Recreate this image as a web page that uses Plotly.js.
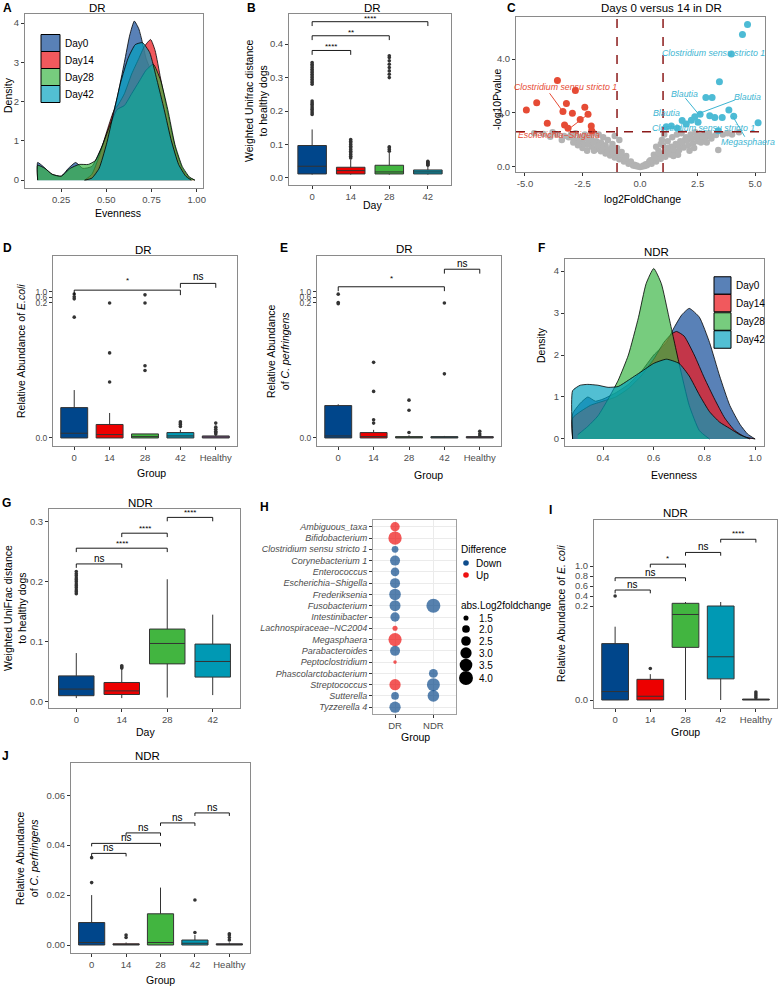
<!DOCTYPE html>
<html><head><meta charset="utf-8">
<script src="https://cdn.plot.ly/plotly-3.0.1.min.js"></script>
<style>html,body{margin:0;padding:0;background:#fff}#chart{width:778px;height:987px}</style>
</head><body><div id="chart"></div>
<script>
// ================= DATA =================
const dayNames = ['Day0','Day14','Day28','Day42'];
// Panel A (DR evenness density)
const aDay0X = [0.12,0.12,0.15,0.2,0.25,0.29,0.33,0.37,0.42,0.47,0.52,0.56,0.6,0.63,0.655,0.68,0.7,0.72,0.75,0.78,0.82,0.86,0.9,0.94,0.97];
const aDay0Y = [0,0.45,0.35,0.15,0.1,0.3,0.45,0.3,0.35,0.8,1.4,2.1,3.0,3.7,4.05,3.85,3.5,3.1,2.75,2.4,1.7,1.0,0.4,0.1,0];
const aDay14X = [0.38,0.42,0.46,0.5,0.54,0.57,0.6,0.64,0.68,0.71,0.745,0.77,0.8,0.84,0.88,0.92,0.96,0.99];
const aDay14Y = [0,0.15,0.6,1.2,1.75,1.95,2.2,2.7,3.1,3.4,3.58,3.3,2.6,1.7,0.85,0.3,0.06,0];
const aDay28X = [0.12,0.12,0.16,0.2,0.25,0.3,0.35,0.4,0.44,0.48,0.52,0.56,0.6,0.64,0.68,0.72,0.76,0.8,0.84,0.88,0.92,0.96,0.99];
const aDay28Y = [0,0.38,0.3,0.15,0.1,0.3,0.4,0.4,0.5,0.9,1.4,1.8,1.9,2.2,2.5,2.8,2.95,2.55,1.8,0.9,0.35,0.08,0];
const aDay42X = [0.38,0.42,0.46,0.5,0.54,0.58,0.62,0.66,0.7,0.74,0.78,0.82,0.86,0.9,0.94,0.97];
const aDay42Y = [0,0.05,0.3,0.9,1.7,2.5,3.1,3.45,3.5,3.25,2.55,1.8,1.0,0.4,0.1,0];
const aTickX = [0.25,0.5,0.75,1.0];
const aTickXText = ['0.25','0.50','0.75','1.00'];

// Panel B (DR weighted UniFrac)
const bCats = ['0','14','28','42'];
const bQ1 = [0.012,0.012,0.012,0.012];
const bMed = [0.035,0.022,0.018,0.018];
const bQ3 = [0.097,0.032,0.038,0.024];
const bLow = [0.010,0.010,0.010,0.010];
const bHigh = [0.145,0.055,0.075,0.035];
const bOut = [
  [0.19,0.195,0.2,0.205,0.21,0.215,0.22,0.225,0.23,0.28,0.285,0.29,0.295,0.30,0.305,0.31,0.315,0.32,0.325,0.33,0.335,0.34,0.345],
  [0.06,0.065,0.07,0.075,0.08,0.085,0.09,0.095,0.1,0.105,0.11,0.115],
  [0.08,0.085,0.09,0.093,0.30,0.31,0.32,0.33,0.34,0.35,0.36,0.365],
  [0.038,0.041,0.044,0.047,0.05]
];

// Panel C (volcano)
const cDownX = [-3.59,-2.81,-4.49,-4.94,-3.2,-2.4,-3.35,-2.94,-2.26,-2.6,-4.03,-3.28,-3.13,-2.12,-2.1];
const cDownY = [3.20,2.83,2.38,2.11,2.35,2.21,2.05,1.99,1.95,1.76,1.62,1.55,1.43,1.52,1.34];
const cUpX = [4.67,4.45,3.97,3.45,2.86,3.13,3.86,2.38,2.61,3.03,3.25,3.57,4.07,2.23,2.52,1.83,2.01,1.36,1.62,1.14,5.13,3.4];
const cUpY = [5.28,4.91,4.19,3.16,2.57,2.57,2.11,1.86,1.95,1.90,1.83,1.83,1.88,1.73,1.66,1.72,1.59,1.52,1.43,1.49,1.64,1.34];
const cNsX = [-0.3,-0.2,-0.1,0,0.1,0.2,0.3,
  -0.5,-0.7,-0.9,-1.1,-1.3,-1.5,-1.7,-1.9,-2.1,-2.3,-2.5,-2.7,-2.9,-3.1,-3.3,-3.6,-3.9,-4.2,
  -0.6,-0.8,-1.0,-1.2,-1.4,-1.6,-1.8,-2.0,-2.2,-2.4,-2.6,-2.8,-3.0,-1.1,-0.9,-1.3,-1.5,-1.7,-1.9,-2.1,-2.3,-2.5,-2.7,-0.4,-0.6,-0.8,-1.0,-1.2,-1.6,-1.8,-2.0,-3.4,-3.8,-2.9,-4.6,
  0.5,0.7,0.9,1.1,1.3,1.5,1.7,1.9,2.1,2.3,2.5,2.7,2.9,3.1,3.4,3.6,
  0.6,0.8,1.0,1.2,1.4,1.6,1.8,2.0,2.2,2.4,2.6,2.8,3.0,3.3,1.05,0.95,1.15,1.35,1.55,1.75,1.95,2.15,2.35,2.55,0.4,0.6,0.8,1.0,1.2,1.45,1.65,0.7,0.9,3.8,4.0,4.3,
  -0.45,-0.65,-0.85,-1.05,-1.25,-1.45,-1.65,-1.85,-2.05,-2.25,-2.45,-0.25,-0.15,0.15,0.25,0.45,0.65,0.85,1.25,1.45,1.65,1.85,2.05,2.25,2.45,2.65,2.85,3.05];
const cNsY = [0.05,0.03,0.01,0.0,0.01,0.03,0.06,
  0.12,0.2,0.28,0.35,0.42,0.5,0.58,0.66,0.75,0.82,0.9,0.98,1.05,1.1,1.15,1.2,1.12,1.22,
  0.4,0.55,0.7,0.85,1.0,1.1,1.2,1.25,1.1,1.2,1.1,1.25,1.2,1.15,1.0,0.6,0.8,0.9,0.95,1.0,0.6,0.7,0.8,0.2,0.25,0.35,0.45,0.55,0.75,0.85,0.6,1.0,1.28,0.9,1.25,
  0.12,0.2,0.3,0.38,0.46,0.55,0.63,0.72,0.8,0.88,0.95,1.0,0.9,1.05,0.63,1.2,
  0.45,0.6,0.8,0.95,1.1,1.2,1.25,1.1,1.2,1.28,1.15,1.22,1.25,1.18,1.2,1.0,0.6,0.75,0.85,0.95,1.0,0.6,0.7,1.05,0.2,0.28,0.38,0.5,0.7,0.4,0.45,0.75,0.85,1.25,1.2,1.28,
  0.15,0.3,0.45,0.55,0.7,0.65,0.7,0.8,0.9,1.0,1.05,0.08,0.05,0.05,0.1,0.25,0.35,0.5,0.55,0.65,0.8,0.9,1.0,1.05,1.1,0.9,1.1,1.15];
const cTickX = [-5,-2.5,0,2.5,5];
const cTickXText = ['-5.0','-2.5','0.0','2.5','5.0'];

// Panel D (DR E. coli), Panel E (DR C. perfringens)
const grpCats = ['0','14','28','42','Healthy'];
const dQ1 = [0,0,0,0,0];
const dMed = [0.007,0.005,0.002,0.003,0.001];
const dQ3 = [0.045,0.020,0.006,0.008,0.003];
const dLow = [0,0,0,0,0];
const dHigh = [0.071,0.037,0.006,0.012,0.005];
const dOut = [[0.85,0.65,0.5,0.179],[0.2,0.126,0.083],[0.79,0.2,0.107,0.1],[0.017,0.02,0.022,0.024],[0.006,0.008,0.01,0.013,0.016,0.022]];
const eQ1 = [0,0,0,0,0];
const eMed = [0.003,0.002,0.001,0.001,0.001];
const eQ3 = [0.048,0.008,0.002,0.002,0.002];
const eLow = [0,0,0,0,0];
const eHigh = [0.05,0.012,0.004,0.003,0.003];
const eOut = [[0.84,0.24,0.199],[0.112,0.069,0.027,0.022],[0.056,0.041,0.008],[0.2,0.095],[0.003,0.006,0.01]];
const brkTicks = [0,0.2,0.6,1.0];
const brkTickText = ['0.0','0.2','0.6','1.0'];

// Panel F (NDR evenness density)
const fDay0X = [0.28,0.28,0.31,0.34,0.37,0.4,0.45,0.5,0.55,0.6,0.65,0.68,0.71,0.74,0.78,0.82,0.86,0.9,0.94,0.97,1.0];
const fDay0Y = [0,0.6,0.85,1.0,0.9,0.95,1.1,1.3,1.6,2.0,2.3,2.65,2.95,3.11,2.9,2.3,1.5,0.8,0.35,0.12,0];
const fDay14X = [0.28,0.28,0.35,0.4,0.45,0.5,0.55,0.6,0.64,0.67,0.69,0.72,0.76,0.8,0.84,0.88,0.92,0.96,1.0];
const fDay14Y = [0,0.5,0.8,0.9,1.0,1.2,1.5,1.9,2.3,2.5,2.56,2.45,2.0,1.45,0.95,0.5,0.2,0.05,0];
const fDay28X = [0.3,0.34,0.38,0.42,0.46,0.5,0.54,0.57,0.6,0.63,0.66,0.7,0.74,0.78,0.82];
const fDay28Y = [0.1,0.3,0.55,0.95,1.4,2.0,2.9,3.7,4.06,3.7,2.9,1.8,0.8,0.2,0];
const fDay42X = [0.28,0.28,0.31,0.34,0.38,0.42,0.46,0.5,0.55,0.6,0.65,0.7,0.74,0.78,0.82,0.86,0.9,0.94,0.98];
const fDay42Y = [0,1.15,1.28,1.3,1.28,1.23,1.25,1.4,1.6,1.8,1.9,1.8,1.5,1.05,0.65,0.4,0.25,0.1,0];
const fTickX = [0.4,0.6,0.8,1.0];

// Panel G (NDR weighted UniFrac)
const gQ1 = [0.010,0.012,0.063,0.041];
const gMed = [0.021,0.018,0.097,0.067];
const gQ3 = [0.043,0.032,0.121,0.096];
const gLow = [0.006,0.006,0.007,0.011];
const gHigh = [0.081,0.055,0.204,0.145];
const gOut = [[0.18,0.183,0.186,0.19,0.193,0.196,0.2,0.203,0.206,0.21,0.213,0.217],[0.056,0.058,0.06],[],[]];

// Panel H (differential genera)
const hGenera = ['Ambiguous_taxa','Bifidobacterium','Clostridium sensu stricto 1','Corynebacterium 1','Enterococcus','Escherichia−Shigella','Frederiksenia','Fusobacterium','Intestinibacter','Lachnospiraceae−NC2004','Megasphaera','Parabacteroides','Peptoclostridium','Phascolarctobacterium','Streptococcus','Sutterella','Tyzzerella 4'];
const hGroups = ['DR','NDR'];
const hPtGenus = ['Ambiguous_taxa','Bifidobacterium','Clostridium sensu stricto 1','Corynebacterium 1','Enterococcus','Escherichia−Shigella','Frederiksenia','Fusobacterium','Intestinibacter','Lachnospiraceae−NC2004','Megasphaera','Parabacteroides','Peptoclostridium','Streptococcus','Sutterella','Tyzzerella 4',
  'Fusobacterium','Phascolarctobacterium','Streptococcus','Sutterella'];
const hPtGroup = ['DR','DR','DR','DR','DR','DR','DR','DR','DR','DR','DR','DR','DR','DR','DR','DR','NDR','NDR','NDR','NDR'];
const hPtDiff = ['Up','Up','Down','Down','Down','Down','Down','Down','Down','Up','Up','Down','Up','Up','Down','Down','Down','Down','Down','Down'];
const hPtLfc = [2.4,3.75,1.8,2.6,2.2,2.6,3.1,2.9,2.4,1.5,3.7,2.6,1.3,3.0,2.0,3.0,4.0,2.3,3.6,3.1];
const hSizeLegend = [1.5,2.0,2.5,3.0,3.5,4.0];

// Panel I (NDR E. coli)
const iQ1 = [0,0,0.112,0.045,0];
const iMed = [0.018,0.008,0.182,0.092,0.001];
const iQ3 = [0.12,0.044,0.254,0.2,0.002];
const iLow = [0,0,0,0,0];
const iHigh = [0.156,0.055,0.28,0.28,0.004];
const iOut = [[0.4],[0.067],[],[],[0.005,0.009,0.013,0.017]];
const iTicks = [0,0.2,0.4,0.6,0.8,1.0];
const iTickText = ['0.0','0.2','0.4','0.6','0.8','1.0'];

// Panel J (NDR C. perfringens)
const jQ1 = [0,0,0,0,0];
const jMed = [0.001,0.0002,0.001,0.0007,0.0002];
const jQ3 = [0.009,0.0005,0.0125,0.002,0.0005];
const jLow = [0,0,0,0,0];
const jHigh = [0.02,0.001,0.023,0.004,0.001];
const jOut = [[0.025,0.035],[0.003,0.004],[],[0.005,0.018],[0.002,0.003,0.004,0.0045]];
const jTicks = [0,0.02,0.04,0.06];

// ================= STYLE / HELPERS =================
const W = 778, H = 987;
const px = x => x / W;
const py = y => 1 - y / H;
const FONT = "'Liberation Sans', Arial, Helvetica, sans-serif";
const boxCols = ['#00468B','#ED0000','#42B540','#0099B4','#925E9F'];
const densFill = ['rgba(25,80,155,0.72)','rgba(235,25,30,0.72)','rgba(55,180,65,0.68)','rgba(0,160,190,0.68)'];
const kD = 0.0204, kI = 0.1064;
const brk = k => v => (v <= 0.2 ? v : 0.2 + (v - 0.2) * k);
const ident = v => v;

const traces = [];
const shapes = [];
const annotations = [];
const layout = {
  width: W, height: H, margin: {l:0,r:0,t:0,b:0}, paper_bgcolor:'#fff', plot_bgcolor:'#fff',
  showlegend:false, boxmode:'overlay', font:{family:FONT}
};

function axisBase(extra){
  return Object.assign({
    showline:true, mirror:true, linecolor:'#8a8a8a', linewidth:1,
    ticks:'outside', ticklen:3, tickcolor:'#333', tickwidth:1,
    tickfont:{family:FONT, size:9.5, color:'#4d4d4d'},
    showgrid:false, zeroline:false, fixedrange:true, automargin:false
  }, extra);
}
function addPanel(n, box, xa, ya){
  const s = n === 1 ? '' : String(n);
  layout['xaxis'+s] = axisBase(Object.assign({domain:[px(box.l), px(box.r)], anchor:'y'+s}, xa));
  layout['yaxis'+s] = axisBase(Object.assign({domain:[py(box.b), py(box.t)], anchor:'x'+s}, ya));
  return {x:'x'+s, y:'y'+s};
}
function dens(ax, xs, ys, fill){
  traces.push({type:'scatter', mode:'lines', xaxis:ax.x, yaxis:ax.y, x:xs, y:ys, fill:'tozeroy', fillcolor:fill,
    line:{color:'#000', width:0.8, shape:'spline', smoothing:0.5}, hoverinfo:'skip'});
}
function boxes(ax, cats, q1, med, q3, lo, hi, outs, width, tf){
  cats.forEach((c,i)=>{
    traces.push({type:'box', xaxis:ax.x, yaxis:ax.y, x:[c], q1:[tf(q1[i])], median:[tf(med[i])], q3:[tf(q3[i])],
      lowerfence:[tf(lo[i])], upperfence:[tf(hi[i])], fillcolor:boxCols[i], line:{color:'#333', width:1},
      width:width, whiskerwidth:0, boxpoints:false, hoverinfo:'skip'});
    if (outs[i] && outs[i].length){
      traces.push({type:'scatter', mode:'markers', xaxis:ax.x, yaxis:ax.y, x:outs[i].map(()=>c), y:outs[i].map(tf),
        marker:{size:3.6, color:'#333'}, hoverinfo:'skip'});
    }
  });
}
function bracket(ax, x1, x2, y, drop, label, ly, fs){
  const ln = {color:'#000', width:0.9};
  shapes.push({type:'line', xref:ax.x, yref:ax.y, x0:x1, x1:x2, y0:y, y1:y, line:ln});
  shapes.push({type:'line', xref:ax.x, yref:ax.y, x0:x1, x1:x1, y0:y, y1:y-drop, line:ln});
  shapes.push({type:'line', xref:ax.x, yref:ax.y, x0:x2, x1:x2, y0:y, y1:y-drop, line:ln});
  annotations.push({xref:ax.x, yref:ax.y, x:(x1+x2)/2, y:ly, text:label, showarrow:false,
    font:{family:FONT, size: fs || (label==='ns'?10:8), color:'#000'}, yanchor:'middle'});
}
function txt(x, y, text, o){
  annotations.push(Object.assign({xref:'paper', yref:'paper', x:px(x), y:py(y), text:text, showarrow:false,
    font:{family:FONT, size:11, color:'#000'}, xanchor:'center', yanchor:'middle'}, o||{}));
}
function rtxt(x, y, text, o){ txt(x, y, text, Object.assign({textangle:-90}, o||{})); }
function legendKeys(x0, x1, rows, h){
  rows.forEach((cy,i)=>{
    shapes.push({type:'rect', xref:'paper', yref:'paper', x0:px(x0), x1:px(x1), y0:py(cy+h/2), y1:py(cy-h/2),
      fillcolor:densFill[i], line:{color:'#000', width:1}});
    txt(x1+3, cy, dayNames[i], {xanchor:'left', font:{family:FONT, size:10, color:'#000'}});
  });
}
const smallTick = {family:FONT, size:8.5, color:'#4d4d4d'};

// ================= PANEL A =================
const A = addPanel(1, {l:25,r:203,t:14,b:188},
  {range:[0.05,1.035], tickmode:'array', tickvals:aTickX, ticktext:aTickXText},
  {range:[-0.2,4.23], tickmode:'array', tickvals:[0,1,2,3,4]});
dens(A, aDay0X, aDay0Y, densFill[0]);
dens(A, aDay14X, aDay14Y, densFill[1]);
dens(A, aDay28X, aDay28Y, densFill[2]);
dens(A, aDay42X, aDay42Y, densFill[3]);
legendKeys(41, 60, [43,60,77,94], 17);

// ================= PANEL B =================
const B = addPanel(2, {l:289,r:451,t:14,b:185},
  {type:'category', categoryorder:'array', categoryarray:bCats, range:[-0.6,3.6]},
  {range:[-0.021,0.49], tickmode:'array', tickvals:[0,0.1,0.2,0.3,0.4], tickformat:'.1f'});
boxes(B, bCats, bQ1, bMed, bQ3, bLow, bHigh, bOut, 0.74, ident);
bracket(B, 0, 1, 0.381, 0.013, '****', 0.392);
bracket(B, 0, 2, 0.425, 0.013, '**', 0.436);
bracket(B, 0, 3, 0.467, 0.013, '****', 0.478);

// ================= PANEL C =================
const C = addPanel(3, {l:516,r:765,t:17,b:172},
  {range:[-5.39,5.43], tickmode:'array', tickvals:cTickX, ticktext:cTickXText},
  {range:[-0.19,5.56], tickmode:'array', tickvals:[0,2,4], tickformat:'.1f'});
traces.push({type:'scatter', mode:'markers', xaxis:C.x, yaxis:C.y, x:cNsX, y:cNsY, marker:{size:6.5, color:'#B3B3B3'}, hoverinfo:'skip'});
traces.push({type:'scatter', mode:'markers', xaxis:C.x, yaxis:C.y, x:cDownX, y:cDownY, marker:{size:7, color:'#E64B35'}, hoverinfo:'skip'});
traces.push({type:'scatter', mode:'markers', xaxis:C.x, yaxis:C.y, x:cUpX, y:cUpY, marker:{size:7, color:'#4DBBD5'}, hoverinfo:'skip'});
const dash = {color:'#8B1A1A', width:1.5, dash:'dash'};
shapes.push({type:'line', xref:C.x, yref:'paper', x0:-1, x1:-1, y0:py(172), y1:py(17), line:dash});
shapes.push({type:'line', xref:C.x, yref:'paper', x0:1, x1:1, y0:py(172), y1:py(17), line:dash});
shapes.push({type:'line', xref:'paper', yref:C.y, x0:px(516), x1:px(765), y0:1.3, y1:1.3, line:dash});
function cLabel(x, y, text, col){ annotations.push({xref:C.x, yref:C.y, x:x, y:y, text:'<i>'+text+'</i>', showarrow:false, font:{family:FONT, size:8.8, color:col}}); }
function cSeg(x0,y0,x1,y1,col){ shapes.push({type:'line', xref:C.x, yref:C.y, x0:x0, y0:y0, x1:x1, y1:y1, line:{color:col, width:1}}); }
const cRed = '#E64B35', cCyan = '#3DB5D2';
cSeg(-3.93,2.73,-3.35,2.05,cRed);
cSeg(-3.1,1.4,-2.26,1.95,cRed);
cSeg(1.97,2.55,2.55,1.95,cCyan);
cSeg(4.12,2.48,2.59,1.99,cCyan);
cSeg(4.55,1.12,4.04,1.86,cCyan);
cLabel(-3.26,2.96,'Clostridium sensu stricto 1',cRed);
cLabel(-3.53,1.19,'Escherichia−Shigella',cRed);
cLabel(3.2,4.23,'Clostridium sensu stricto 1',cCyan);
cLabel(1.94,2.70,'Blautia',cCyan);
cLabel(4.67,2.6,'Blautia',cCyan);
cLabel(1.14,1.99,'Blautia',cCyan);
cLabel(2.74,1.43,'Clostridium sensu stricto 1',cCyan);
cLabel(4.7,0.94,'Megasphaera',cCyan);

// ================= PANEL D =================
const D = addPanel(4, {l:53,r:237,t:256,b:446},
  {type:'category', categoryorder:'array', categoryarray:grpCats, range:[-0.6,4.6]},
  {range:[-0.0119,0.2696], tickmode:'array', tickvals:brkTicks.map(brk(kD)), ticktext:brkTickText, tickfont:smallTick});
boxes(D, grpCats, dQ1, dMed, dQ3, dLow, dHigh, dOut, 0.76, brk(kD));
bracket(D, 0, 3, 0.219, 0.0074, '*', 0.233);
bracket(D, 3, 4, 0.229, 0.0065, 'ns', 0.239);

// ================= PANEL E =================
const E = addPanel(5, {l:317,r:501,t:256,b:446},
  {type:'category', categoryorder:'array', categoryarray:grpCats, range:[-0.6,4.6]},
  {range:[-0.0119,0.2696], tickmode:'array', tickvals:brkTicks.map(brk(kD)), ticktext:brkTickText, tickfont:smallTick});
boxes(E, grpCats, eQ1, eMed, eQ3, eLow, eHigh, eOut, 0.76, brk(kD));
bracket(E, 0, 3, 0.224, 0.0065, '*', 0.237);
bracket(E, 3, 4, 0.25, 0.0065, 'ns', 0.259);

// ================= PANEL F =================
const F = addPanel(6, {l:565,r:764,t:259,b:446},
  {range:[0.25,1.035], tickmode:'array', tickvals:fTickX, tickformat:'.1f'},
  {range:[-0.167,4.286], tickmode:'array', tickvals:[0,1,2,3,4]});
dens(F, fDay0X, fDay0Y, densFill[0]);
dens(F, fDay14X, fDay14Y, densFill[1]);
dens(F, fDay28X, fDay28Y, densFill[2]);
dens(F, fDay42X, fDay42Y, densFill[3]);
legendKeys(714, 731, [285.5,303,321.5,339.5], 17.5);

// ================= PANEL G =================
const G = addPanel(7, {l:49,r:240,t:509,b:708},
  {type:'category', categoryorder:'array', categoryarray:bCats, range:[-0.6,3.6]},
  {range:[-0.0105,0.321], tickmode:'array', tickvals:[0,0.1,0.2,0.3], tickformat:'.1f'});
boxes(G, bCats, gQ1, gMed, gQ3, gLow, gHigh, gOut, 0.78, ident);
bracket(G, 0, 1, 0.2295, 0.0065, 'ns', 0.239);
bracket(G, 0, 2, 0.2557, 0.0065, '****', 0.264);
bracket(G, 1, 2, 0.2807, 0.0065, '****', 0.289);
bracket(G, 2, 3, 0.307, 0.0065, '****', 0.315);

// ================= PANEL H =================
const Hx = addPanel(8, {l:373,r:456,t:520,b:714},
  {type:'category', categoryorder:'array', categoryarray:hGroups, range:[-0.575,1.59], showgrid:true, gridcolor:'#ebebeb', linecolor:'#a0a0a0'},
  {type:'category', categoryorder:'array', categoryarray:hGenera, range:[16.6,-0.6], showgrid:true, gridcolor:'#ebebeb', linecolor:'#a0a0a0',
   tickfont:{family:FONT, size:9, color:'#4d4d4d', style:'italic'}});
const hSize = v => 2.4 * Math.sqrt(1 + 35 * (v - 1.2) / 3.0);
const hCol = {Down:'#0E4C8C', Up:'#EE1111'};
['Down','Up'].forEach(dname=>{
  const idx = hPtDiff.map((d,i)=>d===dname?i:-1).filter(i=>i>=0);
  traces.push({type:'scatter', mode:'markers', xaxis:Hx.x, yaxis:Hx.y, x:idx.map(i=>hPtGroup[i]), y:idx.map(i=>hPtGenus[i]),
    marker:{size:idx.map(i=>hSize(hPtLfc[i])), color:hCol[dname], line:{width:0}}, hoverinfo:'skip'});
});
// H legend
txt(459, 549, 'Difference', {xanchor:'left', font:{family:FONT, size:10, color:'#000'}});
[['Down',563],['Up',575]].forEach(([nm,cy])=>{
  const r = 2.8;
  shapes.push({type:'circle', xref:'paper', yref:'paper', x0:px(466-r), x1:px(466+r), y0:py(cy+r), y1:py(cy-r), fillcolor:hCol[nm], line:{width:0}});
  txt(474, cy, nm, {xanchor:'left', font:{family:FONT, size:10, color:'#000'}});
});
txt(459, 605, 'abs.Log2foldchange', {xanchor:'left', font:{family:FONT, size:10, color:'#000'}});
const hLegY = [618,629,641,653,665,678];
hSizeLegend.forEach((v,i)=>{
  const r = hSize(v)/2;
  shapes.push({type:'circle', xref:'paper', yref:'paper', x0:px(466-r), x1:px(466+r), y0:py(hLegY[i]+r), y1:py(hLegY[i]-r), fillcolor:'#000', line:{width:0}});
  txt(477, hLegY[i], v.toFixed(1), {xanchor:'left', font:{family:FONT, size:10, color:'#000'}});
});

// ================= PANEL I =================
const I = addPanel(9, {l:594,r:777,t:520,b:708},
  {type:'category', categoryorder:'array', categoryarray:grpCats, range:[-0.6,4.6]},
  {range:[-0.017,0.383], tickmode:'array', tickvals:iTicks.map(brk(kI)), ticktext:iTickText});
boxes(I, grpCats, iQ1, iMed, iQ3, iLow, iHigh, iOut, 0.76, brk(kI));
bracket(I, 0, 1, 0.234, 0.007, 'ns', 0.245);
bracket(I, 0, 2, 0.260, 0.007, 'ns', 0.271);
bracket(I, 1, 2, 0.289, 0.007, '*', 0.302);
bracket(I, 2, 3, 0.314, 0.007, 'ns', 0.326);
bracket(I, 3, 4, 0.342, 0.007, '****', 0.354);

// ================= PANEL J =================
const J = addPanel(10, {l:71,r:250,t:763,b:953},
  {type:'category', categoryorder:'array', categoryarray:grpCats, range:[-0.6,4.6]},
  {range:[-0.0032,0.0729], tickmode:'array', tickvals:jTicks, tickformat:'.2f'});
boxes(J, grpCats, jQ1, jMed, jQ3, jLow, jHigh, jOut, 0.76, ident);
bracket(J, 0, 1, 0.0367, 0.0012, 'ns', 0.0390);
bracket(J, 0, 2, 0.0407, 0.0012, 'ns', 0.0430);
bracket(J, 1, 2, 0.0449, 0.0012, 'ns', 0.0472);
bracket(J, 2, 3, 0.0489, 0.0012, 'ns', 0.0512);
bracket(J, 3, 4, 0.0529, 0.0012, 'ns', 0.0552);

// ================= TITLES & LABELS =================
const T = {family:FONT, size:11.5, color:'#000'};
const AX = {family:FONT, size:10.5, color:'#000'};
txt(97, 8, 'DR', {font:T});
txt(372, 8, 'DR', {font:T});
txt(661, 8, 'Days 0 versus 14 in DR', {font:T});
txt(143, 250, 'DR', {font:T});
txt(404, 249, 'DR', {font:T});
txt(656, 252, 'NDR', {font:T});
txt(140, 503, 'NDR', {font:T});
txt(675, 513, 'NDR', {font:T});
txt(147, 756, 'NDR', {font:T});
// axis titles
txt(118, 213, 'Evenness', {font:AX});
rtxt(8, 95, 'Density', {font:AX});
txt(372, 205, 'Day', {font:AX});
rtxt(256, 100, 'Weighted Unifrac distance<br>to healthy dogs', {font:AX});
txt(642, 199, 'log2FoldChange', {font:AX});
rtxt(497, 100, '-log10Pvalue', {font:AX});
txt(151, 473, 'Group', {font:AX});
rtxt(21, 351, 'Relative Abundance of <i>E.coli</i>', {font:AX});
txt(428, 475, 'Group', {font:AX});
rtxt(278, 351, 'Relative Abundance<br>of <i>C. perfringens</i>', {font:AX});
txt(674, 475, 'Evenness', {font:AX});
rtxt(541, 345, 'Density', {font:AX});
txt(145, 732, 'Day', {font:AX});
rtxt(15, 608, 'Weighted UniFrac distance<br>to healthy dogs', {font:AX});
txt(415, 737, 'Group', {font:AX});
txt(685, 732, 'Group', {font:AX});
rtxt(561, 614, 'Relative Abundance of <i>E. coli</i>', {font:AX});
txt(160, 980, 'Group', {font:AX});
rtxt(27, 858, 'Relative Abundance<br>of <i>C. perfringens</i>', {font:AX});
// panel letters
const PL = {family:FONT, size:12, color:'#000'};
[['A',7,8],['B',252,8],['C',511,8],['D',7,248],['E',284,248],['F',541,248],['G',6,503],['H',264,507],['I',550,510],['J',5,756]]
  .forEach(([l,x,y])=>txt(x, y, '<b>'+l+'</b>', {font:PL}));

layout.shapes = shapes;
layout.annotations = annotations;
Plotly.newPlot('chart', traces, layout, {staticPlot:true, displayModeBar:false});
</script></body></html>
